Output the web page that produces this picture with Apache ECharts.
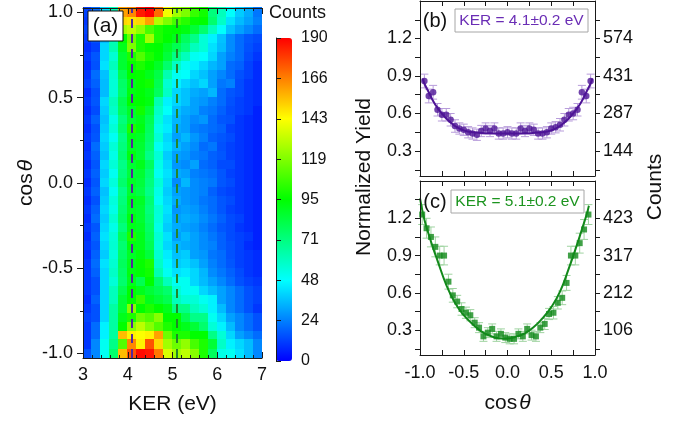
<!DOCTYPE html>
<html>
<head>
<meta charset="utf-8">
<script src="https://cdn.jsdelivr.net/npm/echarts@6/dist/echarts.min.js"></script>
<style>
  html, body { margin: 0; padding: 0; background: #fff; }
  #chart { width: 685px; height: 427px; }
</style>
</head>
<body>
<div id="chart"></div>
<script>
// KER bin centres (eV) and cos(theta) bin centres, top row first
var kerBins = [3.1, 3.3, 3.5, 3.7, 3.9, 4.1, 4.3, 4.5, 4.7, 4.9, 5.1, 5.3, 5.5, 5.7, 5.9, 6.1, 6.3, 6.5, 6.7, 6.9];
var cosBins = [1.000, 0.947, 0.895, 0.842, 0.789, 0.737, 0.684, 0.632, 0.579, 0.526, 0.474, 0.421, 0.368,
  0.316, 0.263, 0.211, 0.158, 0.105, 0.053, 0.000, -0.053, -0.105, -0.158, -0.211, -0.263, -0.316, -0.368,
  -0.421, -0.474, -0.526, -0.579, -0.632, -0.684, -0.737, -0.789, -0.842, -0.895, -0.947, -1.000];

// counts, one row per cos bin (same order as cosBins), one column per KER bin
var countRows = [
  [12, 20, 40, 60, 160, 165, 185, 190, 170, 140, 125, 118, 105, 98, 72, 60, 48, 38, 32, 22],
  [10, 18, 38, 62, 150, 148, 150, 160, 128, 118, 108, 102, 96, 95, 75, 58, 42, 35, 30, 24],
  [12, 15, 35, 60, 125, 130, 122, 108, 100, 96, 95, 92, 85, 75, 60, 48, 36, 30, 25, 20],
  [10, 15, 35, 60, 95, 115, 100, 125, 100, 95, 90, 78, 70, 55, 45, 36, 26, 20, 16, 14],
  [8, 12, 40, 62, 90, 118, 100, 96, 95, 88, 80, 72, 60, 55, 42, 35, 26, 20, 15, 12],
  [10, 16, 40, 56, 86, 100, 110, 100, 94, 84, 70, 60, 50, 48, 40, 30, 24, 20, 14, 10],
  [8, 15, 42, 60, 86, 96, 100, 95, 88, 75, 58, 50, 45, 40, 34, 30, 20, 18, 12, 8],
  [10, 20, 36, 56, 80, 95, 96, 90, 82, 62, 50, 48, 40, 36, 30, 25, 20, 15, 12, 8],
  [12, 18, 35, 55, 76, 90, 96, 98, 80, 56, 45, 40, 36, 40, 30, 22, 24, 14, 10, 8],
  [8, 15, 35, 55, 75, 92, 94, 90, 78, 58, 40, 36, 32, 30, 34, 20, 16, 14, 10, 8],
  [10, 16, 40, 60, 80, 95, 95, 92, 62, 45, 40, 36, 30, 28, 24, 20, 15, 12, 10, 8],
  [8, 14, 38, 58, 78, 88, 98, 85, 58, 48, 36, 32, 30, 24, 22, 18, 14, 12, 10, 6],
  [10, 18, 36, 52, 72, 86, 90, 80, 55, 42, 34, 30, 26, 28, 20, 16, 15, 10, 8, 6],
  [8, 15, 38, 55, 75, 100, 92, 78, 52, 44, 32, 30, 24, 22, 20, 18, 12, 10, 8, 6],
  [10, 16, 40, 50, 70, 90, 88, 76, 55, 40, 30, 34, 28, 24, 18, 16, 14, 10, 8, 6],
  [8, 20, 38, 55, 72, 88, 86, 74, 50, 42, 34, 30, 26, 20, 22, 15, 12, 10, 8, 6],
  [10, 18, 36, 52, 74, 92, 85, 70, 55, 38, 30, 28, 24, 22, 18, 16, 12, 10, 8, 6],
  [8, 16, 40, 55, 70, 86, 90, 78, 52, 40, 28, 26, 30, 20, 18, 14, 14, 10, 8, 6],
  [10, 18, 38, 50, 72, 84, 86, 74, 50, 42, 32, 30, 24, 22, 20, 16, 12, 10, 8, 6],
  [8, 16, 40, 54, 75, 88, 84, 72, 55, 40, 26, 34, 26, 24, 22, 16, 14, 10, 8, 6],
  [10, 18, 36, 50, 70, 86, 82, 70, 52, 38, 30, 28, 26, 24, 18, 14, 12, 10, 8, 6],
  [8, 15, 38, 54, 72, 90, 88, 74, 50, 40, 32, 28, 26, 22, 20, 16, 14, 10, 8, 6],
  [10, 18, 40, 52, 74, 88, 86, 72, 55, 42, 28, 30, 28, 24, 20, 16, 12, 10, 8, 6],
  [8, 20, 38, 56, 76, 92, 86, 74, 54, 40, 30, 32, 30, 26, 22, 18, 14, 12, 8, 6],
  [10, 16, 40, 52, 72, 90, 88, 76, 52, 38, 32, 30, 28, 24, 20, 16, 14, 10, 8, 6],
  [8, 18, 42, 55, 78, 100, 90, 78, 55, 42, 30, 34, 30, 26, 22, 18, 14, 12, 10, 6],
  [10, 16, 40, 56, 74, 92, 90, 80, 54, 40, 34, 32, 30, 26, 24, 18, 15, 12, 8, 6],
  [8, 18, 38, 54, 76, 88, 92, 84, 56, 44, 36, 38, 30, 28, 22, 20, 15, 12, 10, 8],
  [10, 20, 42, 56, 78, 90, 96, 100, 58, 46, 38, 40, 36, 30, 24, 20, 16, 12, 10, 8],
  [10, 18, 40, 58, 76, 92, 94, 98, 62, 50, 42, 44, 40, 34, 26, 22, 18, 14, 10, 8],
  [10, 15, 40, 55, 75, 90, 80, 95, 75, 60, 50, 50, 40, 35, 30, 25, 20, 15, 12, 10],
  [10, 15, 40, 60, 80, 95, 90, 85, 80, 75, 55, 50, 50, 40, 35, 30, 25, 20, 15, 12],
  [8, 18, 40, 60, 85, 95, 105, 90, 85, 80, 60, 55, 55, 50, 45, 30, 25, 20, 15, 12],
  [10, 15, 40, 65, 85, 120, 95, 100, 95, 90, 70, 70, 60, 55, 45, 35, 25, 20, 15, 10],
  [12, 15, 40, 65, 90, 100, 115, 110, 120, 95, 95, 80, 70, 70, 50, 40, 30, 25, 20, 15],
  [10, 20, 45, 65, 95, 120, 130, 120, 110, 100, 95, 90, 85, 75, 55, 45, 35, 25, 20, 15],
  [10, 20, 45, 65, 155, 145, 142, 145, 160, 115, 100, 100, 95, 95, 70, 55, 40, 30, 25, 20],
  [10, 25, 50, 70, 110, 165, 145, 175, 150, 125, 115, 122, 108, 100, 85, 58, 45, 40, 35, 25],
  [15, 25, 50, 75, 155, 175, 188, 186, 168, 135, 125, 130, 120, 100, 78, 52, 50, 42, 35, 25]
];
var countTicks = ['0', '24', '48', '71', '95', '119', '143', '166', '190'];
var countMax = 190;

// (b) KER = 4.1 eV
var cosB = [-0.95, -0.9, -0.85, -0.8, -0.75, -0.7, -0.65, -0.6, -0.55, -0.5, -0.45, -0.4, -0.35, -0.3, -0.25,
  -0.2, -0.15, -0.1, -0.05, 0, 0.05, 0.1, 0.15, 0.2, 0.25, 0.3, 0.35, 0.4, 0.45, 0.5, 0.55, 0.6, 0.65, 0.7,
  0.75, 0.8, 0.85, 0.9, 0.95];
var yieldB = [0.86, 0.74, 0.77, 0.63, 0.59, 0.59, 0.55, 0.50, 0.48, 0.47, 0.45, 0.44, 0.43, 0.46, 0.48, 0.46,
  0.48, 0.44, 0.44, 0.45, 0.44, 0.44, 0.48, 0.46, 0.48, 0.47, 0.44, 0.44, 0.45, 0.48, 0.49, 0.51, 0.55, 0.59,
  0.60, 0.63, 0.77, 0.74, 0.86];
var errB = [0.055, 0.055, 0.055, 0.05, 0.05, 0.05, 0.05, 0.05, 0.045, 0.045, 0.045, 0.045, 0.045, 0.045, 0.045,
  0.045, 0.045, 0.045, 0.045, 0.045, 0.045, 0.045, 0.045, 0.045, 0.045, 0.045, 0.045, 0.045, 0.045, 0.045,
  0.045, 0.05, 0.05, 0.05, 0.05, 0.05, 0.055, 0.055, 0.055];
var fitCosB = [-0.97, -0.95, -0.9, -0.85, -0.8, -0.75, -0.7, -0.6, -0.5, -0.4, -0.2, 0, 0.2, 0.4, 0.5, 0.6,
  0.7, 0.75, 0.8, 0.85, 0.9, 0.95, 0.97];
var fitB = [0.88, 0.84, 0.77, 0.70, 0.645, 0.60, 0.56, 0.50, 0.465, 0.45, 0.442, 0.44, 0.442, 0.45, 0.465,
  0.50, 0.56, 0.60, 0.645, 0.70, 0.77, 0.84, 0.88];
var countLabelsB = ['144', '287', '431', '574'];

// (c) KER = 5.1 eV
var cosC = [-0.975, -0.925, -0.875, -0.825, -0.775, -0.725, -0.675, -0.625, -0.575, -0.525, -0.475, -0.425,
  -0.375, -0.325, -0.275, -0.225, -0.175, -0.125, -0.075, -0.025, 0.025, 0.075, 0.125, 0.175, 0.225, 0.275,
  0.325, 0.375, 0.425, 0.475, 0.525, 0.575, 0.625, 0.675, 0.725, 0.775, 0.825, 0.875, 0.925];
var yieldC = [1.23, 1.12, 1.05, 0.97, 0.90, 0.90, 0.69, 0.58, 0.53, 0.47, 0.44, 0.42, 0.36, 0.32, 0.25, 0.28,
  0.31, 0.25, 0.27, 0.24, 0.23, 0.23, 0.27, 0.25, 0.31, 0.26, 0.25, 0.32, 0.35, 0.43, 0.44, 0.52, 0.56, 0.68,
  0.90, 0.90, 1.00, 1.11, 1.23];
var errC = [0.08, 0.08, 0.08, 0.08, 0.075, 0.075, 0.06, 0.055, 0.05, 0.05, 0.045, 0.045, 0.04, 0.04, 0.04,
  0.04, 0.04, 0.04, 0.04, 0.04, 0.04, 0.04, 0.04, 0.04, 0.04, 0.04, 0.04, 0.04, 0.045, 0.045, 0.05, 0.05,
  0.055, 0.06, 0.075, 0.075, 0.08, 0.08, 0.08];
var fitCosC = [-1.0, -0.95, -0.9, -0.85, -0.8, -0.7, -0.6, -0.5, -0.4, -0.3, -0.2, -0.1, 0.0, 0.1, 0.2, 0.3,
  0.4, 0.5, 0.6, 0.7, 0.8, 0.85, 0.9, 0.93];
var fitC = [1.36, 1.19, 1.07, 0.96, 0.86, 0.665, 0.52, 0.42, 0.35, 0.29, 0.255, 0.235, 0.233, 0.248, 0.275,
  0.325, 0.395, 0.485, 0.61, 0.795, 1.0, 1.11, 1.22, 1.30];
var countLabelsC = ['106', '212', '317', '423'];

var yieldTicks = [0.3, 0.6, 0.9, 1.2];

var FONT = 'Liberation Sans';
var purple = '#4e1496', purpleLight = '#b89ddb', purpleText = '#6a2db5';
var green = '#12891a', greenLight = '#9fd3a0', greenText = '#1c941f';

var chart = echarts.init(document.getElementById('chart'), null, { renderer: 'canvas' });

var heatData = [];
cosBins.forEach(function (c, i) {
  kerBins.forEach(function (k, j) {
    heatData.push([k, c, countRows[i][j]]);
  });
});

function pairs(xs, ys) {
  return xs.map(function (x, i) { return [x, ys[i]]; });
}

function errorSeries(xs, ys, es, color, xi, yi) {
  return {
    type: 'custom',
    xAxisIndex: xi,
    yAxisIndex: yi,
    z: 1,
    silent: true,
    data: xs.map(function (x, i) { return [x, ys[i] - es[i], ys[i] + es[i]]; }),
    encode: { x: 0, y: [1, 2] },
    renderItem: function (params, api) {
      var lo = api.coord([api.value(0), api.value(1)]);
      var hi = api.coord([api.value(0), api.value(2)]);
      var w = 4;
      var st = { stroke: color, lineWidth: 1 };
      return {
        type: 'group',
        children: [
          { type: 'line', shape: { x1: lo[0], y1: lo[1], x2: hi[0], y2: hi[1] }, style: st },
          { type: 'line', shape: { x1: lo[0] - w, y1: lo[1], x2: lo[0] + w, y2: lo[1] }, style: st },
          { type: 'line', shape: { x1: hi[0] - w, y1: hi[1], x2: hi[0] + w, y2: hi[1] }, style: st }
        ]
      };
    }
  };
}

var lineStyle = { color: '#1a1a1a', width: 1 };
var nameStyle = {
  color: '#111', fontSize: 21, fontFamily: FONT,
  rich: { t: { fontStyle: 'italic', fontSize: 21, fontFamily: FONT, color: '#111', padding: [0, 0, 0, 2] } }
};

function panelX(grid, pos, labels) {
  return {
    gridIndex: grid, type: 'value', position: pos, min: -1, max: 1, interval: 0.25, z: 10,
    axisLine: { show: true, onZero: false, lineStyle: lineStyle },
    axisTick: { show: true, inside: true, length: 5, lineStyle: lineStyle },
    splitLine: { show: false },
    axisLabel: labels ? {
      show: true, margin: 9, color: '#111', fontSize: 18, fontFamily: FONT,
      formatter: function (v) {
        return Math.abs(v * 2 - Math.round(v * 2)) < 1e-6 ? v.toFixed(1) : '';
      }
    } : { show: false },
    name: labels ? 'cos{t|θ}' : '',
    nameLocation: 'middle', nameGap: 38, nameTextStyle: nameStyle
  };
}

function panelY(grid, pos, texts) {
  return {
    gridIndex: grid, type: 'value', position: pos, min: 0.1, max: 1.5, z: 10,
    axisLine: { show: true, onZero: false, lineStyle: lineStyle },
    axisTick: { show: true, inside: false, length: 5, lineStyle: lineStyle,
      customValues: [0.15, 0.3, 0.45, 0.6, 0.75, 0.9, 1.05, 1.2, 1.35] },
    splitLine: { show: false },
    axisLabel: {
      show: true, margin: 8, color: '#111', fontSize: 18, fontFamily: FONT,
      customValues: yieldTicks,
      formatter: function (v) {
        if (!texts) return v.toFixed(1);
        var i = yieldTicks.indexOf(Math.round(v * 10) / 10);
        return i >= 0 ? texts[i] : '';
      }
    }
  };
}

var option = {
  animation: false,
  backgroundColor: '#fff',
  title: {
    text: 'Counts', left: 269, top: 4, padding: 0,
    textStyle: { fontSize: 18, fontWeight: 'normal', fontFamily: FONT, color: '#111' }
  },
  grid: [
    { left: 83, top: 8, width: 179, height: 350, outerBoundsMode: 'none' },
    { left: 276, top: 38, width: 16, height: 323, outerBoundsMode: 'none' },
    { left: 420, top: 1, width: 175, height: 175, outerBoundsMode: 'none' },
    { left: 420, top: 181, width: 175, height: 174, outerBoundsMode: 'none' }
  ],
  visualMap: {
    type: 'continuous', seriesIndex: 0, dimension: 2, min: 0, max: countMax,
    calculable: false, hoverLink: false, padding: 0,
    left: 276, top: 38, itemWidth: 16, itemHeight: 323,
    inRange: { color: ['#0000ff', '#0080ff', '#00ffff', '#00ff80', '#00ff00', '#80ff00', '#ffff00', '#ff8000', '#ff0000'] }
  },
  xAxis: [
    {
      gridIndex: 0, type: 'value', position: 'bottom', min: 3, max: 7, interval: 1, z: 10,
      axisLine: { show: true, onZero: false, lineStyle: lineStyle },
      axisTick: { show: true, inside: true, length: 6, lineStyle: lineStyle },
      minorTick: { show: true, splitNumber: 5, length: 3, lineStyle: lineStyle },
      splitLine: { show: false },
      axisLabel: { show: true, margin: 8, color: '#111', fontSize: 18, fontFamily: FONT },
      name: 'KER (eV)', nameLocation: 'middle', nameGap: 36, nameTextStyle: nameStyle
    },
    {
      gridIndex: 0, type: 'value', position: 'top', min: 3, max: 7, interval: 1, z: 10,
      axisLine: { show: true, onZero: false, lineStyle: lineStyle },
      axisTick: { show: true, inside: true, length: 6, lineStyle: lineStyle },
      minorTick: { show: true, splitNumber: 5, length: 3, lineStyle: lineStyle },
      splitLine: { show: false },
      axisLabel: { show: false }
    },
    { gridIndex: 1, type: 'value', min: 0, max: 1, show: false },
    panelX(2, 'bottom', false),
    panelX(2, 'top', false),
    panelX(3, 'bottom', true),
    panelX(3, 'top', false)
  ],
  yAxis: [
    {
      gridIndex: 0, type: 'value', position: 'left', min: -1.0263, max: 1.0263, z: 10,
      axisLine: { show: true, onZero: false, lineStyle: lineStyle },
      axisTick: { show: true, inside: false, length: 6, lineStyle: lineStyle, customValues: [-1, -0.5, 0, 0.5, 1] },
      splitLine: { show: false },
      axisLabel: {
        show: true, margin: 10, color: '#111', fontSize: 18, fontFamily: FONT,
        customValues: [-1, -0.5, 0, 0.5, 1],
        formatter: function (v) { return v.toFixed(1); }
      },
      name: 'cos{t|θ}', nameLocation: 'middle', nameGap: 46, nameRotate: 90, nameTextStyle: nameStyle
    },
    {
      gridIndex: 0, type: 'value', position: 'left', min: -1.0263, max: 1.0263, z: 10,
      axisLine: { show: false },
      axisTick: { show: true, inside: false, length: 3, lineStyle: lineStyle, customValues: [-0.75, -0.25, 0.25, 0.75] },
      splitLine: { show: false },
      axisLabel: { show: false }
    },
    {
      gridIndex: 1, type: 'value', position: 'right', min: 0, max: countMax, interval: countMax / 8, z: 10,
      axisLine: { show: true, lineStyle: lineStyle },
      axisTick: { show: true, inside: false, length: 5, lineStyle: lineStyle },
      splitLine: { show: false },
      axisLabel: {
        show: true, margin: 9, color: '#111', fontSize: 16, fontFamily: FONT,
        formatter: function (v) { return countTicks[Math.round(v / (countMax / 8))]; }
      }
    },
    panelY(2, 'left', null),
    panelY(2, 'right', countLabelsB),
    panelY(3, 'left', null),
    panelY(3, 'right', countLabelsC)
  ],
  series: [
    {
      type: 'custom',
      xAxisIndex: 0,
      yAxisIndex: 0,
      silent: true,
      data: heatData,
      encode: { x: 0, y: 1 },
      renderItem: function (params, api) {
        var k = api.value(0), c = api.value(1);
        var p0 = api.coord([k - 0.1, c + 1 / 38]);
        var p1 = api.coord([k + 0.1, c - 1 / 38]);
        var x0 = Math.floor(p0[0]), y0 = Math.floor(p0[1]);
        var x1 = Math.ceil(p1[0]), y1 = Math.ceil(p1[1]);
        return {
          type: 'rect',
          shape: { x: x0, y: y0, width: x1 - x0, height: y1 - y0 },
          style: { fill: api.visual('color') }
        };
      },
      markLine: {
        silent: true,
        symbol: ['none', 'none'],
        label: { show: false },
        data: [
          { xAxis: 4.1, lineStyle: { color: '#55289a', width: 2, type: [9, 6] } },
          { xAxis: 5.1, lineStyle: { color: '#23862a', width: 2, type: [9, 6] } }
        ]
      }
    },
    errorSeries(cosB, yieldB, errB, purpleLight, 3, 3),
    {
      type: 'line', xAxisIndex: 3, yAxisIndex: 3, smooth: true, showSymbol: false, silent: true, z: 2,
      lineStyle: { color: purple, width: 2 }, data: pairs(fitCosB, fitB)
    },
    {
      type: 'scatter', xAxisIndex: 3, yAxisIndex: 3, symbol: 'circle', symbolSize: 6.5, z: 3,
      itemStyle: { color: purple }, data: pairs(cosB, yieldB)
    },
    errorSeries(cosC, yieldC, errC, greenLight, 5, 5),
    {
      type: 'line', xAxisIndex: 5, yAxisIndex: 5, smooth: true, showSymbol: false, silent: true, z: 2,
      lineStyle: { color: green, width: 2 }, data: pairs(fitCosC, fitC)
    },
    {
      type: 'scatter', xAxisIndex: 5, yAxisIndex: 5, symbol: 'rect', symbolSize: 6, z: 3,
      itemStyle: { color: green }, data: pairs(cosC, yieldC)
    }
  ],
  graphic: [
    { type: 'rect', z: 100, shape: { x: 88, y: 11, width: 35, height: 30 },
      style: { fill: '#fff', stroke: '#111', lineWidth: 1 } },
    { type: 'text', z: 101, x: 105.5, y: 26.5,
      style: { text: '(a)', fontSize: 21, fontFamily: FONT, fill: '#111', align: 'center', verticalAlign: 'middle' } },
    { type: 'text', z: 101, x: 435, y: 21,
      style: { text: '(b)', fontSize: 20, fontFamily: FONT, fill: '#111', align: 'center', verticalAlign: 'middle' } },
    { type: 'rect', z: 100, shape: { x: 455, y: 9, width: 133, height: 23 },
      style: { fill: '#fff', stroke: '#a6a6a6', lineWidth: 1 } },
    { type: 'text', z: 101, x: 521.5, y: 21,
      style: { text: 'KER = 4.1±0.2 eV', fontSize: 15.5, fontFamily: FONT, fill: purpleText, align: 'center', verticalAlign: 'middle' } },
    { type: 'text', z: 101, x: 435, y: 202,
      style: { text: '(c)', fontSize: 20, fontFamily: FONT, fill: '#111', align: 'center', verticalAlign: 'middle' } },
    { type: 'rect', z: 100, shape: { x: 451, y: 190, width: 133, height: 23 },
      style: { fill: '#fff', stroke: '#a6a6a6', lineWidth: 1 } },
    { type: 'text', z: 101, x: 517.5, y: 202,
      style: { text: 'KER = 5.1±0.2 eV', fontSize: 15.5, fontFamily: FONT, fill: greenText, align: 'center', verticalAlign: 'middle' } },
    { type: 'text', z: 101, x: 364, y: 177, rotation: Math.PI / 2,
      style: { text: 'Normalized Yield', fontSize: 21, fontFamily: FONT, fill: '#111', align: 'center', verticalAlign: 'middle' } },
    { type: 'text', z: 101, x: 655, y: 187, rotation: Math.PI / 2,
      style: { text: 'Counts', fontSize: 21, fontFamily: FONT, fill: '#111', align: 'center', verticalAlign: 'middle' } }
  ]
};

chart.setOption(option);
</script>
</body>
</html>
